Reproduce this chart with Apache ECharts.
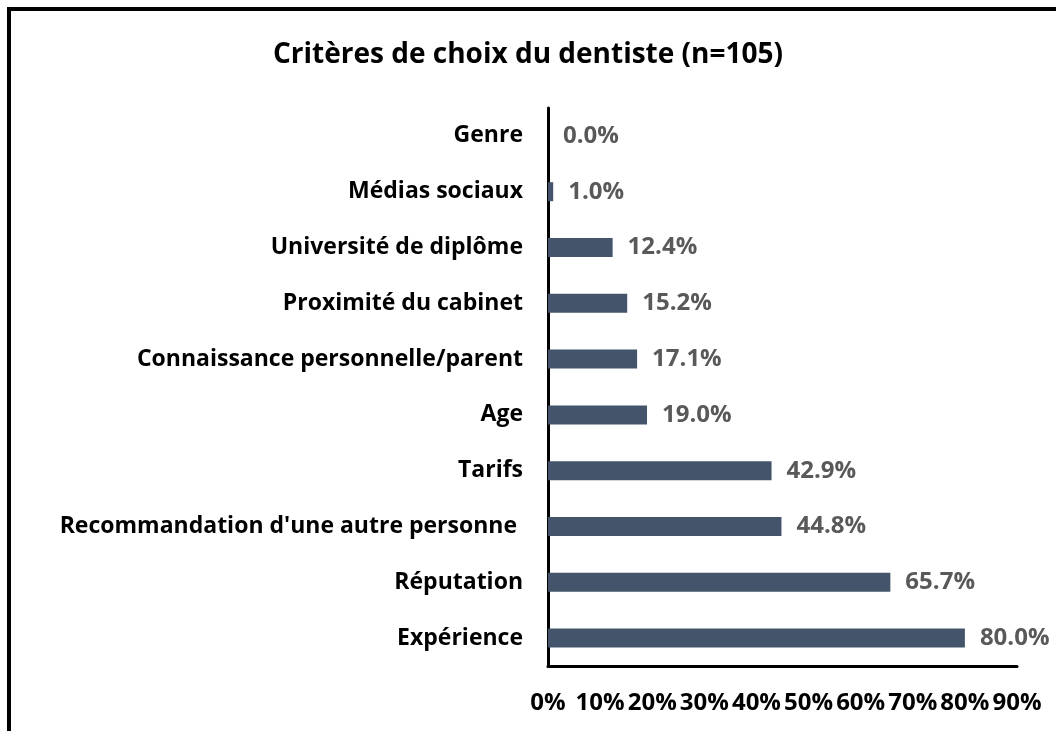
<!DOCTYPE html>
<html>
<head>
<meta charset="utf-8">
<script src="https://cdn.jsdelivr.net/npm/echarts@6/dist/echarts.min.js"></script>
<style>
  html, body { margin: 0; padding: 0; background: #fff; }
  #frame { position: absolute; left: 7px; top: 7px; width: 1049px; height: 724px;
           border-top: 4px solid #000; border-left: 4px solid #000; box-sizing: border-box; }
  #main { position: absolute; left: 0; top: 0; width: 1056px; height: 731px; }
</style>
</head>
<body>
<div id="frame"></div>
<div id="main"></div>
<script>
var categories = ['Genre', 'Médias sociaux', 'Université de diplôme', 'Proximité du cabinet',
    'Connaissance personnelle/parent', 'Age', 'Tarifs', "Recommandation d'une autre personne ",
    'Réputation', 'Expérience'];
var values = [0.0, 1.0, 12.4, 15.2, 17.1, 19.0, 42.9, 44.8, 65.7, 80.0];
var xTicks = [0, 10, 20, 30, 40, 50, 60, 70, 80, 90];

var myChart = echarts.init(document.getElementById('main'));
var fontName = 'Open Sans';

option = {
    animation: false,
    title: {
        text: 'Critères de choix du dentiste (n=105)',
        left: 'center',
        top: 36,
        textStyle: { fontFamily: fontName, fontSize: 28, fontWeight: 'bold', color: '#000' }
    },
    grid: { left: 548, right: 39, top: 108, bottom: 65 },
    xAxis: {
        type: 'value',
        min: xTicks[0],
        max: xTicks[xTicks.length - 1],
        interval: 10,
        splitLine: { show: false },
        axisLine: { show: true, lineStyle: { color: '#000', width: 3 } },
        axisTick: { show: false },
        axisLabel: {
            margin: 25,
            fontFamily: fontName, fontSize: 24, fontWeight: 'bold', color: '#000',
            formatter: function (v) { return v + '%'; }
        }
    },
    yAxis: {
        type: 'category',
        inverse: true,
        data: categories,
        axisLine: { show: true, lineStyle: { color: '#000', width: 3 } },
        axisTick: { show: false },
        axisLabel: { margin: 25, fontFamily: fontName, fontSize: 23, fontWeight: 'bold', color: '#000' }
    },
    series: [{
        type: 'bar',
        data: values,
        barWidth: 19,
        itemStyle: { color: '#44546A' },
        label: {
            show: true,
            position: 'right',
            distance: 15,
            fontFamily: fontName, fontSize: 24, fontWeight: 'bold', color: '#595959',
            formatter: function (p) { return p.value.toFixed(1) + '%'; }
        }
    }]
};
myChart.setOption(option);
window.addEventListener('resize', function () {
    myChart.resize();
});
</script>
</body>
</html>
